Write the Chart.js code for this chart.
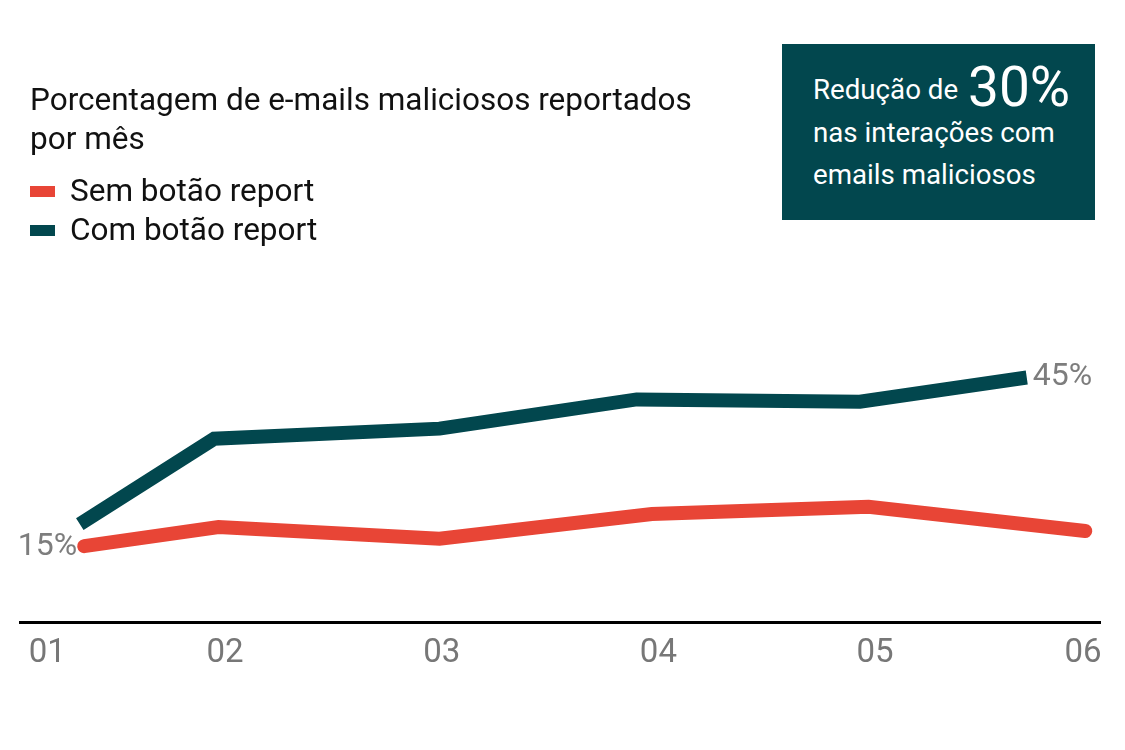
<!DOCTYPE html>
<html>
<head>
<meta charset="utf-8">
<script src="https://cdn.jsdelivr.net/npm/chart.js@4/dist/chart.umd.min.js"></script>
<style>
  body { margin: 0; background: #fff; font-family: Roboto, sans-serif; }
  #wrap { position: relative; width: 1125px; height: 750px; }
  #title { position: absolute; left: 30px; top: 80px; font-size: 31.5px; line-height: 39px; color: #111; white-space: nowrap; }
  .leg { position: absolute; left: 70px; font-size: 31.5px; line-height: 30px; color: #111; white-space: nowrap; }
  .sw { position: absolute; left: 30px; width: 25px; height: 11px; }
  #box { position: absolute; left: 782px; top: 44px; width: 313px; height: 176px; background: #02474e; color: #fff; }
  #box .t { position: absolute; left: 31px; font-size: 27.7px; line-height: 30px; white-space: nowrap; }
  #box .big { position: absolute; left: 186px; top: 13px; font-size: 55px; line-height: 60px; }
</style>
</head>
<body>
<div id="wrap">
  <canvas id="chart" width="1125" height="750"></canvas>
  <div id="title">Porcentagem de e-mails maliciosos reportados<br>por mês</div>
  <div class="sw" style="top:186px;background:#e84536"></div>
  <div class="leg" style="top:176px">Sem botão report</div>
  <div class="sw" style="top:225px;background:#02474e"></div>
  <div class="leg" style="top:215px">Com botão report</div>
  <div id="box">
    <div class="t" style="top:31px">Redução de</div>
    <div class="big">30%</div>
    <div class="t" style="top:74px">nas interações com</div>
    <div class="t" style="top:116px">emails maliciosos</div>
  </div>
</div>
<script>
const monthLabels = ['01', '02', '03', '04', '05', '06'];
const tickValues = [1.18, 2, 3, 4, 5, 5.96];

const semX = [1.35, 1.97, 2.99, 3.97, 4.97, 5.97];
const semY = [15, 18.4, 16.3, 20.7, 22.0, 17.7];

const comX = [1.33, 1.95, 2.99, 3.90, 4.93, 5.70];
const comY = [18.9, 34.1, 35.9, 41.1, 40.7, 45];

const red = '#e84536';
const green = '#02474e';

const toPoints = (xs, ys) => xs.map((x, i) => ({ x: x, y: ys[i] }));

const endLabels = {
  id: 'endLabels',
  afterDatasetsDraw(chart) {
    const ctx = chart.ctx;
    ctx.save();
    ctx.font = '32px Roboto';
    ctx.fillStyle = '#7d7d7d';
    ctx.textBaseline = 'middle';
    const first = chart.getDatasetMeta(0).data[0];
    ctx.textAlign = 'right';
    ctx.fillText(semY[0] + '%', first.x - 7, first.y + 1);
    const comMeta = chart.getDatasetMeta(1).data;
    const last = comMeta[comMeta.length - 1];
    ctx.textAlign = 'left';
    ctx.fillText(comY[comY.length - 1] + '%', last.x + 6, last.y);
    ctx.restore();
  }
};

new Chart(document.getElementById('chart'), {
  type: 'line',
  data: {
    datasets: [{
      label: 'Sem botão report',
      data: toPoints(semX, semY),
      borderColor: red,
      borderWidth: 14,
      borderCapStyle: 'round',
      borderJoinStyle: 'miter',
      pointRadius: 0,
      tension: 0
    }, {
      label: 'Com botão report',
      data: toPoints(comX, comY),
      borderColor: green,
      borderWidth: 14,
      borderCapStyle: 'butt',
      borderJoinStyle: 'miter',
      pointRadius: 0,
      tension: 0
    }]
  },
  options: {
    responsive: false,
    animation: false,
    layout: { padding: { left: 20, right: 25, top: 260, bottom: 64 } },
    plugins: { legend: { display: false }, tooltip: { enabled: false } },
    scales: {
      x: {
        type: 'linear',
        min: 1.054,
        max: 6.038,
        grid: { display: false, drawTicks: false },
        border: { display: true, color: '#000', width: 3 },
        afterBuildTicks: (axis) => { axis.ticks = tickValues.map(v => ({ value: v })); },
        ticks: {
          padding: 12,
          color: '#777',
          font: { family: 'Roboto', size: 33 },
          callback: (v, i) => monthLabels[i]
        }
      },
      y: {
        display: false,
        min: 1.43,
        max: 65.9
      }
    }
  },
  plugins: [endLabels]
});
</script>
</body>
</html>
